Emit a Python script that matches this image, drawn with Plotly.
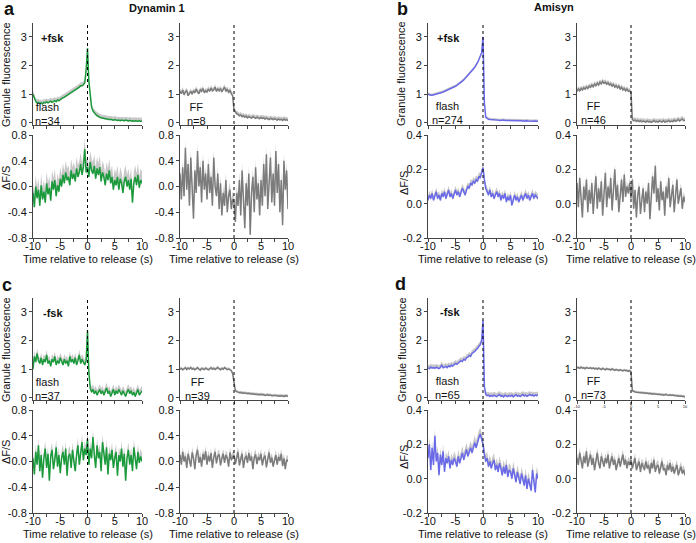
import plotly.graph_objects as go

W, H = 696, 543
FONT = "Liberation Sans, Arial, Helvetica, sans-serif"
GREEN = "#1b9a3c"
BLUE = "#6a6ae8"
GREY = "#7c7c7c"
BAND = "#c8c8c8"
AX = "#444444"

TIME = [round(-10 + 0.25 * i, 2) for i in range(81)]

# ---------------- Dynamin 1, +fsk (a) ----------------
A_FLASH_F = [1.00, 0.85, 0.75, 0.70, 0.72, 0.68, 0.70, 0.66, 0.72, 0.70,
             0.74, 0.70, 0.72, 0.76, 0.72, 0.75, 0.78, 0.74, 0.80, 0.78,
             0.82, 0.85, 0.88, 0.90, 0.93, 0.97, 1.00, 1.02, 1.06, 1.10,
             1.12, 1.15, 1.20, 1.22, 1.25, 1.30, 1.30, 1.33, 1.40, 1.85,
             2.60, 1.45, 0.85, 0.55, 0.42, 0.35, 0.30, 0.26, 0.22, 0.20,
             0.18, 0.17, 0.15, 0.14, 0.15, 0.13, 0.12, 0.13, 0.11, 0.10,
             0.12, 0.10, 0.09, 0.10, 0.08, 0.10, 0.09, 0.08, 0.10, 0.08,
             0.07, 0.09, 0.07, 0.08, 0.06, 0.08, 0.07, 0.06, 0.08, 0.06,
             0.07]
A_FF_F = [1.10, 1.02, 1.15, 0.98, 1.08, 1.12, 0.95, 1.05, 1.10, 1.00,
          1.12, 1.05, 1.18, 1.08, 1.02, 1.15, 1.10, 1.20, 1.05, 1.12,
          1.08, 1.18, 1.10, 1.22, 1.12, 1.15, 1.25, 1.10, 1.18, 1.12,
          1.20, 1.08, 1.16, 1.25, 1.10, 1.18, 1.05, 1.15, 1.02, 0.95,
          0.45, 0.38, 0.32, 0.30, 0.25, 0.28, 0.22, 0.25, 0.20, 0.24,
          0.18, 0.22, 0.20, 0.17, 0.22, 0.19, 0.16, 0.20, 0.18, 0.15,
          0.19, 0.16, 0.18, 0.14, 0.17, 0.15, 0.12, 0.16, 0.14, 0.12,
          0.15, 0.12, 0.10, 0.14, 0.11, 0.13, 0.09, 0.14, 0.10, 0.12,
          0.08]
A_FLASH_D = [-0.10, -0.32, 0.00, -0.18, -0.05, -0.30, 0.02, -0.20, -0.08, -0.25,
             0.05, -0.12, -0.02, -0.22, 0.08, -0.05, 0.10, -0.15, 0.02, -0.08,
             0.12, 0.00, 0.18, 0.05, 0.22, 0.10, 0.15, 0.02, 0.25, 0.12,
             0.20, 0.08, 0.28, 0.15, 0.22, 0.35, 0.18, 0.30, 0.58, 0.22,
             0.30, 0.15, 0.38, 0.25, 0.20, 0.32, 0.12, 0.28, 0.18, 0.30,
             0.08, 0.22, 0.15, 0.02, 0.20, 0.10, 0.25, 0.05, 0.15, -0.05,
             0.10, 0.02, 0.15, -0.05, 0.12, 0.05, -0.10, 0.08, 0.15, 0.00,
             0.10, -0.05, 0.12, -0.25, 0.05, 0.15, 0.02, 0.18, -0.02, 0.10,
             0.05]
A_FF_D = [0.20, -0.20, 0.30, -0.15, 0.60, -0.05, 0.35, -0.30, 0.45, 0.05,
          -0.50, 0.25, -0.10, 0.55, 0.00, 0.30, -0.25, 0.40, -0.05, 0.20,
          -0.20, 0.35, -0.10, 0.15, -0.30, 0.45, 0.00, -0.15, 0.20, -0.35,
          0.05, -0.45, -0.10, -0.30, 0.10, -0.40, -0.15, -0.05, -0.35, -0.20,
          -0.25, -0.55, -0.10, -0.30, 0.10, -0.45, 0.25, -0.20, -0.65, 0.05,
          -0.30, 0.20, -0.75, -0.10, 0.15, -0.40, 0.30, -0.20, 0.05, -0.45,
          0.10, -0.30, 0.35, -0.15, 0.50, -0.35, 0.00, 0.45, -0.25, 0.20,
          -0.30, 0.55, -0.10, 0.35, -0.40, 0.10, -0.60, 0.40, -0.05, 0.25,
          -0.35]

# ---------------- Amisyn, +fsk (b) ----------------
B_FLASH_F = [1.00, 0.98, 0.97, 0.97, 0.98, 0.99, 1.00, 1.01, 1.02, 1.04,
             1.06, 1.08, 1.10, 1.12, 1.14, 1.16, 1.18, 1.20, 1.22, 1.25,
             1.28, 1.31, 1.34, 1.38, 1.42, 1.46, 1.50, 1.55, 1.60, 1.65,
             1.70, 1.76, 1.82, 1.88, 1.94, 2.00, 2.10, 2.20, 2.30, 2.45,
             3.00, 0.70, 0.20, 0.15, 0.13, 0.12, 0.12, 0.11, 0.11, 0.10,
             0.10, 0.10, 0.09, 0.10, 0.09, 0.10, 0.09, 0.09, 0.10, 0.09,
             0.09, 0.08, 0.09, 0.08, 0.09, 0.08, 0.08, 0.09, 0.08, 0.07,
             0.08, 0.07, 0.08, 0.07, 0.06, 0.07, 0.06, 0.07, 0.06, 0.06,
             0.06]
B_FF_F = [1.10, 1.18, 1.12, 1.20, 1.15, 1.22, 1.18, 1.25, 1.20, 1.28,
          1.24, 1.32, 1.26, 1.35, 1.30, 1.38, 1.32, 1.42, 1.36, 1.45,
          1.38, 1.42, 1.35, 1.40, 1.32, 1.36, 1.28, 1.34, 1.25, 1.30,
          1.22, 1.28, 1.18, 1.24, 1.15, 1.20, 1.12, 1.18, 1.10, 1.12,
          1.05, 0.12, 0.08, 0.10, 0.06, 0.09, 0.05, 0.08, 0.04, 0.07,
          0.05, 0.03, 0.07, 0.04, 0.06, 0.02, 0.05, 0.08, 0.04, 0.06,
          0.03, 0.07, 0.05, 0.04, 0.08, 0.03, 0.06, 0.05, 0.09, 0.04,
          0.07, 0.05, 0.10, 0.06, 0.08, 0.12, 0.07, 0.10, 0.14, 0.08,
          0.10]
B_FLASH_D = [0.02, 0.05, 0.03, 0.06, 0.02, 0.04, 0.07, 0.03, 0.05, 0.02,
             0.06, 0.04, 0.07, 0.03, 0.05, 0.08, 0.04, 0.06, 0.03, 0.05,
             0.08, 0.05, 0.07, 0.04, 0.06, 0.09, 0.07, 0.05, 0.08, 0.10,
             0.09, 0.12, 0.11, 0.13, 0.12, 0.14, 0.13, 0.16, 0.15, 0.18,
             0.21, 0.14, 0.09, 0.07, 0.05, 0.08, 0.04, 0.06, 0.03, 0.05,
             0.07, 0.04, 0.06, 0.02, 0.05, 0.03, 0.06, 0.01, 0.04, 0.02,
             0.05, -0.01, 0.03, 0.05, 0.02, 0.04, 0.01, 0.03, 0.05, 0.02,
             0.04, 0.06, 0.03, 0.05, 0.02, 0.04, 0.06, 0.03, 0.05, 0.04,
             0.03]
B_FF_D = [0.12, -0.02, 0.15, 0.05, -0.08, 0.10, 0.02, 0.14, -0.05, 0.08,
          0.00, 0.12, -0.06, 0.06, 0.16, -0.03, 0.09, 0.01, 0.13, -0.07,
          0.05, 0.18, -0.02, 0.10, 0.03, 0.15, -0.04, 0.07, 0.20, 0.02,
          0.11, -0.05, 0.08, 0.14, 0.01, 0.17, 0.04, 0.10, 0.06, 0.12,
          0.03, 0.14, -0.03, 0.08, -0.08, 0.05, 0.10, -0.06, 0.02, 0.09,
          -0.05, 0.07, 0.00, 0.12, -0.09, 0.04, 0.16, 0.06, 0.22, 0.01,
          0.09, -0.04, 0.13, 0.02, 0.07, -0.07, 0.10, 0.03, 0.15, -0.02,
          0.06, 0.11, -0.05, 0.08, 0.14, 0.00, 0.05, 0.09, -0.03, 0.04,
          0.01]

# ---------------- Dynamin 1, -fsk (c) ----------------
C_FLASH_F = [1.00, 1.45, 1.25, 1.55, 1.30, 1.20, 1.40, 1.15, 1.35, 1.25,
             1.50, 1.20, 1.30, 1.10, 1.35, 1.25, 1.45, 1.15, 1.30, 1.20,
             1.40, 1.25, 1.15, 1.35, 1.20, 1.30, 1.10, 1.45, 1.25, 1.35,
             1.20, 1.40, 1.15, 1.30, 1.50, 1.20, 1.35, 1.25, 1.15, 1.30,
             2.35, 0.90, 0.35, 0.20, 0.30, 0.15, 0.25, 0.10, 0.20, 0.30,
             0.15, 0.25, 0.10, 0.20, 0.35, 0.15, 0.25, 0.05, 0.20, 0.30,
             0.10, 0.25, 0.15, 0.30, 0.20, 0.10, 0.25, 0.15, 0.05, 0.20,
             0.30, 0.15, 0.25, 0.10, 0.20, 0.05, 0.15, 0.30, 0.10, 0.20,
             0.25]
C_FF_F = [1.00, 1.03, 0.98, 1.02, 1.05, 0.99, 1.04, 1.01, 1.06, 1.00,
          1.03, 0.98, 1.02, 1.05, 1.00, 0.97, 1.03, 1.01, 0.99, 1.04,
          1.02, 0.98, 1.01, 1.05, 1.00, 1.03, 0.99, 1.04, 1.06, 1.01,
          0.98, 1.03, 1.00, 1.05, 1.02, 0.99, 1.01, 0.98, 0.95, 0.85,
          0.60, 0.25, 0.22, 0.20, 0.18, 0.19, 0.17, 0.18, 0.16, 0.17,
          0.15, 0.16, 0.14, 0.15, 0.13, 0.14, 0.12, 0.13, 0.11, 0.12,
          0.12, 0.10, 0.11, 0.09, 0.10, 0.11, 0.09, 0.10, 0.08, 0.09,
          0.08, 0.09, 0.07, 0.08, 0.06, 0.08, 0.07, 0.05, 0.08, 0.06,
          0.07]
C_FLASH_D = [0.05, -0.20, 0.15, -0.05, 0.25, -0.15, 0.10, -0.25, 0.05, 0.20,
             -0.10, 0.12, -0.30, 0.08, 0.18, -0.12, 0.02, 0.22, -0.08, 0.10,
             -0.18, 0.05, 0.15, -0.05, 0.20, -0.22, 0.08, 0.12, -0.10, 0.18,
             0.00, -0.15, 0.10, 0.25, -0.05, 0.15, 0.30, 0.02, 0.20, 0.10,
             0.35, -0.05, 0.20, 0.05, 0.38, 0.10, -0.10, 0.25, 0.05, 0.15,
             -0.15, 0.30, 0.08, -0.05, 0.22, -0.20, 0.12, 0.02, 0.18, -0.10,
             0.05, 0.15, -0.22, 0.10, 0.00, 0.20, -0.08, 0.12, -0.30, 0.05,
             0.18, -0.05, 0.10, -0.15, 0.22, 0.02, -0.12, 0.15, -0.02, 0.08,
             0.00]
C_FF_D = [0.10, -0.05, 0.15, 0.00, 0.08, -0.10, 0.12, 0.03, -0.08, 0.14,
          0.05, -0.12, 0.10, 0.18, -0.02, 0.07, -0.08, 0.12, 0.02, 0.16,
          -0.05, 0.09, 0.00, 0.13, -0.10, 0.06, 0.15, -0.03, 0.08, 0.11,
          -0.06, 0.04, 0.12, -0.02, 0.10, 0.05, -0.08, 0.14, 0.02, 0.07,
          0.10, -0.04, 0.08, 0.15, -0.06, 0.05, 0.12, -0.10, 0.04, 0.09,
          -0.02, 0.13, 0.01, 0.08, -0.12, 0.06, 0.11, -0.04, 0.07, 0.02,
          0.12, -0.06, 0.05, 0.09, -0.09, 0.03, 0.14, -0.02, 0.06, -0.08,
          0.04, 0.10, -0.05, 0.07, 0.01, 0.12, -0.07, 0.05, -0.12, 0.03,
          0.00]

# ---------------- Amisyn, -fsk (d) ----------------
D_FLASH_F = [1.05, 1.02, 1.08, 1.04, 1.06, 1.03, 1.07, 1.05, 1.02, 1.06,
             1.15, 1.05, 1.08, 1.10, 1.06, 1.12, 1.09, 1.14, 1.11, 1.16,
             1.20, 1.17, 1.23, 1.26, 1.30, 1.27, 1.35, 1.32, 1.40, 1.42,
             1.48, 1.45, 1.55, 1.58, 1.62, 1.68, 1.72, 1.80, 1.85, 2.00,
             2.70, 0.40, 0.12, 0.08, 0.10, 0.05, 0.09, 0.06, 0.10, 0.07,
             0.05, 0.09, 0.12, 0.06, 0.08, 0.04, 0.10, 0.07, 0.05, 0.09,
             0.06, 0.10, 0.04, 0.08, 0.11, 0.06, 0.09, 0.05, 0.08, 0.12,
             0.07, 0.10, 0.06, 0.09, 0.12, 0.08, 0.11, 0.07, 0.10, 0.08,
             0.12]
D_FF_F = [1.05, 1.06, 1.03, 1.07, 1.04, 1.05, 1.02, 1.06, 1.04, 1.03,
          1.05, 1.02, 1.04, 1.01, 1.03, 1.00, 1.04, 1.02, 0.99, 1.03,
          1.01, 0.98, 1.02, 0.99, 1.00, 0.97, 1.01, 0.98, 0.96, 0.99,
          0.97, 0.95, 0.98, 0.96, 0.94, 0.97, 0.95, 0.96, 0.93, 0.95,
          0.92, 0.25, 0.22, 0.21, 0.20, 0.19, 0.20, 0.18, 0.19, 0.17,
          0.18, 0.16, 0.17, 0.15, 0.16, 0.14, 0.15, 0.14, 0.13, 0.14,
          0.12, 0.13, 0.11, 0.12, 0.10, 0.11, 0.12, 0.10, 0.09, 0.11,
          0.09, 0.10, 0.08, 0.09, 0.07, 0.08, 0.06, 0.07, 0.05, 0.06,
          0.03]
D_FLASH_D = [0.12, 0.20, 0.05, 0.18, 0.08, 0.25, 0.10, 0.15, 0.02, 0.14,
             0.08, 0.16, 0.04, 0.12, 0.09, 0.13, 0.06, 0.11, 0.08, 0.12,
             0.10, 0.07, 0.13, 0.09, 0.12, 0.15, 0.11, 0.14, 0.17, 0.13,
             0.16, 0.18, 0.15, 0.19, 0.21, 0.18, 0.22, 0.24, 0.26, 0.23,
             0.20, 0.14, 0.10, 0.12, 0.07, 0.10, 0.06, 0.09, 0.11, 0.05,
             0.08, 0.04, 0.09, 0.06, 0.02, 0.07, 0.03, 0.08, 0.01, 0.05,
             0.04, 0.00, 0.06, 0.02, -0.02, 0.04, 0.01, -0.03, 0.03, -0.01,
             -0.04, 0.02, -0.06, 0.00, -0.03, -0.07, 0.05, -0.02, -0.08, 0.03,
             0.00]
D_FF_D = [0.12, 0.08, 0.15, 0.10, 0.06, 0.13, 0.09, 0.16, 0.07, 0.11,
          0.14, 0.08, 0.12, 0.05, 0.11, 0.15, 0.09, 0.06, 0.13, 0.10,
          0.07, 0.12, 0.09, 0.14, 0.06, 0.10, 0.13, 0.08, 0.11, 0.05,
          0.09, 0.12, 0.07, 0.10, 0.14, 0.08, 0.11, 0.06, 0.10, 0.08,
          0.11, 0.06, 0.09, 0.12, 0.05, 0.08, 0.10, 0.04, 0.09, 0.07,
          0.05, 0.10, 0.06, 0.08, 0.03, 0.09, 0.06, 0.11, 0.04, 0.07,
          0.08, 0.03, 0.07, 0.10, 0.05, 0.06, 0.02, 0.08, 0.05, 0.09,
          0.04, 0.07, 0.03, 0.06, 0.08, 0.02, 0.05, 0.07, 0.03, 0.05,
          0.02]

# SEM band half-widths (upper, lower) per trace
SEM = {
    "A_FLASH_F": (0.12, 0.03), "A_FF_F": (0.10, 0.03),
    "A_FLASH_D": (0.18, 0.03), "A_FF_D": (0.12, 0.02),
    "B_FLASH_F": (0.06, 0.02), "B_FF_F": (0.10, 0.03),
    "B_FLASH_D": (0.025, 0.01), "B_FF_D": (0.03, 0.01),
    "C_FLASH_F": (0.18, 0.03), "C_FF_F": (0.06, 0.02),
    "C_FLASH_D": (0.12, 0.02), "C_FF_D": (0.08, 0.02),
    "D_FLASH_F": (0.12, 0.02), "D_FF_F": (0.05, 0.02),
    "D_FLASH_D": (0.04, 0.01), "D_FF_D": (0.03, 0.01),
}

N_CELLS = {"A_FLASH": 34, "A_FF": 8, "B_FLASH": 274, "B_FF": 46,
           "C_FLASH": 37, "C_FF": 39, "D_FLASH": 65, "D_FF": 73}

TOP_TICKS = [0, 1, 2, 3]
TOP_TEXT = ["0", "1", "2", "3"]
DYN_TICKS = [0.8, 0.4, 0.0, -0.4, -0.8]
DYN_TEXT = ["0.8", "0.4", "0.0", "-0.4", "-0.8"]
AMI_TICKS = [0.4, 0.2, 0.0, -0.2]
AMI_TEXT = ["0.4", "0.2", "0.0", "-0.2"]
X_TICKS = [-10, -5, 0, 5, 10]
X_TEXT = ["-10", "-5", "0", "5", "10"]

fig = go.Figure()
layout = {}
shapes = []
annotations = []


def add_sub(idx, xpx, ypx, yrange, yticks, ytext, name, data, color, xlabels, tiny=False):
    xid = "x" if idx == 1 else f"x{idx}"
    yid = "y" if idx == 1 else f"y{idx}"
    up, dn = SEM[name]
    upper = [v + up for v in data]
    lower = [v - dn for v in data]
    fig.add_trace(go.Scatter(x=TIME, y=upper, xaxis=xid, yaxis=yid, mode="lines",
                             line=dict(width=0, color=BAND), hoverinfo="skip", showlegend=False))
    fig.add_trace(go.Scatter(x=TIME, y=lower, xaxis=xid, yaxis=yid, mode="lines",
                             line=dict(width=0, color=BAND), fill="tonexty", fillcolor=BAND,
                             hoverinfo="skip", showlegend=False))
    fig.add_trace(go.Scatter(x=TIME, y=data, xaxis=xid, yaxis=yid, mode="lines",
                             line=dict(width=1.5, color=color), showlegend=False))
    xfont = dict(size=4 if tiny else 11, color="#111", family=FONT)
    layout["xaxis" if idx == 1 else f"xaxis{idx}"] = dict(
        domain=[xpx[0] / W, xpx[1] / W], range=[-10, 10], anchor=yid, automargin=False,
        showline=True, linecolor=AX, linewidth=1, ticks="outside", ticklen=3, tickcolor=AX,
        tickvals=X_TICKS, ticktext=X_TEXT, showticklabels=(xlabels or tiny), tickfont=xfont,
        ticklabelstandoff=(-1 if tiny else -5),
        minor=dict(tickvals=[-7.5, -2.5, 2.5, 7.5], ticks="outside", ticklen=3, tickcolor=AX,
                   showgrid=False),
        showgrid=False, zeroline=False, fixedrange=True)
    layout["yaxis" if idx == 1 else f"yaxis{idx}"] = dict(
        domain=[1 - ypx[1] / H, 1 - ypx[0] / H], range=yrange, anchor=xid, automargin=False,
        showline=True, linecolor=AX, linewidth=1, ticks="outside", ticklen=3, tickcolor=AX,
        tickvals=yticks, ticktext=ytext, tickfont=dict(size=11, color="#111", family=FONT),
        showgrid=False, zeroline=False, fixedrange=True)
    return xid


def ann(text, x, y, size=11, bold=False, xanchor="center", angle=0):
    annotations.append(dict(
        text=f"<b>{text}</b>" if bold else text, x=x / W, y=1 - y / H, xref="paper", yref="paper",
        showarrow=False, xanchor=xanchor, yanchor="middle", textangle=angle, align="center",
        font=dict(size=size, color="#111", family=FONT)))


COLS = {"left_flash": (33, 142), "left_ff": (180, 288), "right_flash": (428, 538), "right_ff": (577, 685)}
ROWS = [((22.5, 125), (135, 238)), ((297.5, 400), (410, 513))]
LABEL_POS = {"A_FLASH": (47, 114.5), "A_FF": (196, 114.5), "B_FLASH": (447, 113), "B_FF": (593, 113),
             "C_FLASH": (47, 389), "C_FF": (197, 389), "D_FLASH": (447, 387.5), "D_FF": (593, 387.5)}

panels = [
    (0, "left", "A", GREEN, [-0.8, 0.8], DYN_TICKS, DYN_TEXT),
    (0, "right", "B", BLUE, [-0.2, 0.4], AMI_TICKS, AMI_TEXT),
    (1, "left", "C", GREEN, [-0.8, 0.8], DYN_TICKS, DYN_TEXT),
    (1, "right", "D", BLUE, [-0.2, 0.4], AMI_TICKS, AMI_TEXT),
]
DATA = {
    "A_FLASH_F": A_FLASH_F, "A_FF_F": A_FF_F, "A_FLASH_D": A_FLASH_D, "A_FF_D": A_FF_D,
    "B_FLASH_F": B_FLASH_F, "B_FF_F": B_FF_F, "B_FLASH_D": B_FLASH_D, "B_FF_D": B_FF_D,
    "C_FLASH_F": C_FLASH_F, "C_FF_F": C_FF_F, "C_FLASH_D": C_FLASH_D, "C_FF_D": C_FF_D,
    "D_FLASH_F": D_FLASH_F, "D_FF_F": D_FF_F, "D_FLASH_D": D_FLASH_D, "D_FF_D": D_FF_D,
}

idx = 1
for row, side, key, color, drange, dticks, dtext in panels:
    top, bot = ROWS[row]
    for kind in ["FLASH", "FF"]:
        xpx = COLS[f"{side}_{kind.lower()}"]
        c = color if kind == "FLASH" else GREY
        tiny = (key == "D" and kind == "FF")
        xtop = add_sub(idx, xpx, top, [-0.07, 3.5], TOP_TICKS, TOP_TEXT,
                       f"{key}_{kind}_F", DATA[f"{key}_{kind}_F"], c, False, tiny)
        idx += 1
        add_sub(idx, xpx, bot, drange, dticks, dtext,
                f"{key}_{kind}_D", DATA[f"{key}_{kind}_D"], c, True)
        idx += 1
        shapes.append(dict(type="line", xref=xtop, yref="paper", x0=0, x1=0,
                           y0=1 - bot[1] / H, y1=1 - top[0] / H,
                           line=dict(color="#000", width=1, dash="dot"), layer="above"))
        ann("Time relative to release (s)", (xpx[0] + xpx[1]) / 2, bot[1] + 21, size=11)
        lx, ly = LABEL_POS[f"{key}_{kind}"]
        word = "flash" if kind == "FLASH" else "FF"
        ann(f"{word}<br>n={N_CELLS[f'{key}_{kind}']}", lx, ly, size=11)

# panel letters and titles
ann("a", 9, 9, size=18, bold=True)
ann("b", 402, 9, size=18, bold=True)
ann("c", 7, 285, size=18, bold=True)
ann("d", 400, 284, size=18, bold=True)
ann("Dynamin 1", 157, 8, size=11, bold=True)
ann("Amisyn", 554, 7, size=11, bold=True)

# condition labels
ann("+fsk", 52, 38, size=11, bold=True)
ann("+fsk", 449, 38, size=11, bold=True)
ann("-fsk", 53, 313, size=11, bold=True)
ann("-fsk", 450, 312, size=11, bold=True)

# y-axis titles
ann("Granule fluorescence", 6, 75, size=11, angle=-90)
ann("\u0394F/S", 6, 178, size=11, angle=-90)
ann("Granule fluorescence", 401, 74, size=11, angle=-90)
ann("\u0394F/S", 404, 183, size=11, angle=-90)
ann("Granule fluorescence", 6, 350, size=11, angle=-90)
ann("\u0394F/S", 6, 452, size=11, angle=-90)
ann("Granule fluorescence", 402, 350, size=11, angle=-90)
ann("\u0394F/S", 404, 457, size=11, angle=-90)

fig.update_layout(
    width=W, height=H, margin=dict(l=0, r=0, t=0, b=0, pad=0), autosize=False,
    paper_bgcolor="white", plot_bgcolor="white",
    font=dict(family=FONT, size=11, color="#111"),
    showlegend=False, shapes=shapes, annotations=annotations, **layout)

fig.write_html("out.html", config={"displayModeBar": False},
               post_script="document.body.style.margin='0px';document.body.style.overflow='hidden';")
